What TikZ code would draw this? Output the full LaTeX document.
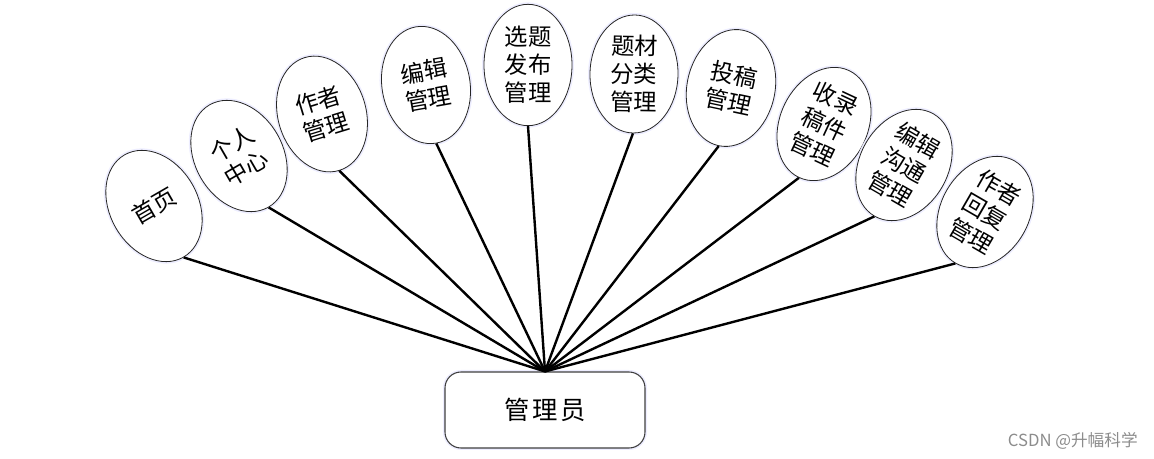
\documentclass[tikz,border=0pt]{standalone}
\usepackage{fontspec}
\newfontfamily\cjk{Noto Sans CJK SC}
\usetikzlibrary{shapes.geometric}
\tikzset{
  halo/.style={preaction={draw=blue!7!white, line width=3pt}},
  leaf/.style={ellipse, draw=black!85, line width=0.6pt, fill=white, halo,
    minimum width=66pt, minimum height=88.5pt, inner sep=0pt,
    align=center, font=\cjk\fontsize{17.5}{21}\selectfont},
  rootbox/.style={rectangle, rounded corners=12pt, draw=black!75, line width=0.8pt,
    fill=white, halo, minimum width=150pt, minimum height=57pt,
    font=\cjk\fontsize{19}{22}\selectfont},
  conn/.style={draw=black, line width=1.8pt},
  wmark/.style={font=\cjk\fontsize{12.5}{14}\selectfont, text=black!45, inner sep=0pt}
}
\begin{document}
\begin{tikzpicture}[x=0.75pt, y=-0.75pt]
\useasboundingbox (0,0) rectangle (1154,459);
\node[rootbox] (root) at (545,410) {管\hspace{2pt}理\hspace{2pt}员};
\node[leaf, rotate=30]  (e1)  at (154,206) {首页};
\node[leaf, rotate=30]  (e2)  at (239,156) {个人\\中心};
\node[leaf, rotate=17]  (e3)  at (322,114) {作者\\管理};
\node[leaf, rotate=10]  (e4)  at (426,85)  {编辑\\管理};
\node[leaf, minimum height=91pt] (e5) at (528,65) {选题\\发布\\管理};
\node[leaf, rotate=-1]  (e6)  at (634,74)  {题材\\分类\\管理};
\node[leaf, rotate=-12] (e7)  at (731,88)  {投稿\\管理};
\node[leaf, rotate=-25] (e8)  at (824,124) {收录\\稿件\\管理};
\node[leaf, rotate=-30] (e9)  at (904,165) {编辑\\沟通\\管理};
\node[leaf, rotate=-30] (e10) at (985,212) {作者\\回复\\管理};
\foreach \i in {1,...,10} {
  \draw[conn] (e\i.south) -- (root.north);
}
\node[wmark, anchor=east] (wm) at (1138,441) {CSDN @升幅科学};
\end{tikzpicture}
\end{document}
